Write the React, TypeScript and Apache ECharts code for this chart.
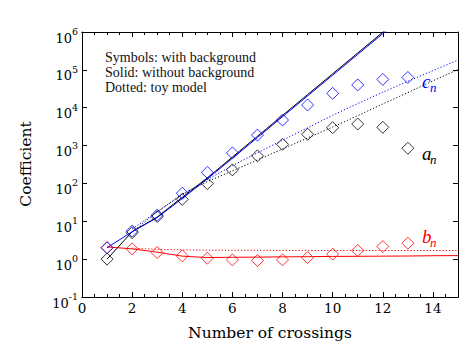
import React, { useEffect, useRef } from 'react';
import * as echarts from 'echarts';

// Symbols: with background
const crossings = [1, 2, 3, 4, 5, 6, 7, 8, 9, 10, 11, 12, 13];
const aSymbols = [1.0, 5.0, 13.3, 38, 99, 228, 535, 1080, 1990, 2970, 3720, 3040, 850];
const bSymbols = [2.0, 1.87, 1.49, 1.22, 1.06, 0.96, 0.92, 0.96, 1.1, 1.35, 1.69, 2.15, 2.64];
const cSymbols = [2.0, 5.5, 14.5, 55, 195, 640, 1890, 4730, 11800, 24000, 40000, 56000, 63000];

// Solid: without background
const solidX = [1, 2, 3, 4, 5, 6, 7, 8, 9, 10, 11, 12, 12.5];
const aSolid = [1.0, 5.3, 13, 43, 140, 497, 1760, 6250, 22200, 78700, 279000, 990000, 1900000];
const cSolid = [2.0, 5.3, 12.5, 40, 132, 460, 1630, 5800, 20500, 72500, 256000, 905000, 1700000];
const bSolidX = [1, 2, 3, 4, 5, 6, 7, 8, 9, 10, 11, 12, 13, 14, 15];
const bSolid = [2.1, 1.87, 1.53, 1.2, 1.1, 1.12, 1.13, 1.15, 1.16, 1.18, 1.19, 1.2, 1.21, 1.23, 1.24];

// Dotted: toy model
const toyX = [2, 3, 4, 5, 6, 7, 8, 9, 10, 11, 12, 13, 14, 15];
const aToy = [5.2, 17.8, 52.5, 112, 214, 417, 813, 1585, 3090, 6170, 12600, 25100, 51300, 102000];
const bToy = [1.95, 1.82, 1.76, 1.73, 1.72, 1.71, 1.7, 1.7, 1.69, 1.69, 1.69, 1.69, 1.69, 1.69];
const cToy = [6.3, 17.8, 50, 126, 295, 646, 1380, 2950, 6310, 12900, 25700, 50100, 95500, 182000];

const noteLines = ['Symbols: with background', 'Solid: without background', 'Dotted: toy model'];
const xTitle = 'Number of crossings';
const yTitle = 'Coefficient';

const BLUE = '#0000ff';
const RED = '#ff0000';
const BLACK = '#000000';
const AXIS_FONT = 'DejaVu Serif';
const NOTE_FONT = 'Liberation Serif';

const zip = (xs: number[], ys: number[]) => xs.map((x, i) => [x, ys[i]]);

export default function App() {
  const ref = useRef<HTMLDivElement>(null);
  useEffect(() => {
    if (!ref.current) return;
    const chart = echarts.init(ref.current, undefined, { renderer: 'svg' });

    const lineSeries = (data: number[][], color: string, dotted: boolean) => ({
      type: 'line',
      data,
      symbol: 'none',
      showSymbol: false,
      clip: true,
      lineStyle: { color, width: 1, type: dotted ? [1.2, 2] : 'solid' },
      z: 2,
    });
    const symSeries = (ys: number[], color: string) => ({
      type: 'scatter',
      data: zip(crossings, ys),
      symbol: 'diamond',
      symbolSize: 12,
      itemStyle: { color: 'rgba(0,0,0,0)', borderColor: color, borderWidth: 1 },
      z: 3,
    });

    const baseX = {
      type: 'value',
      min: 0,
      max: 15,
      splitLine: { show: false },
      axisLine: { show: true, onZero: false, lineStyle: { color: BLACK, width: 1 } },
    };

    const noteGraphics = noteLines.map((t, i) => ({
      type: 'text',
      x: 105,
      y: 57.3 + i * 15.3,
      style: {
        text: t,
        fill: '#111',
        font: `14px "${NOTE_FONT}"`,
        align: 'left',
        verticalAlign: 'middle',
      },
    }));

    const seriesLabel = (letter: string, color: string, baseY: number) => [
      {
        type: 'text',
        x: 422,
        y: baseY - 6.4,
        style: {
          text: letter,
          fill: color,
          font: `italic 19px "${NOTE_FONT}"`,
          align: 'left',
          verticalAlign: 'middle',
        },
      },
      {
        type: 'text',
        x: 430,
        y: baseY + 3.5 - 4.4,
        style: {
          text: 'n',
          fill: color,
          font: `italic 13px "${NOTE_FONT}"`,
          align: 'left',
          verticalAlign: 'middle',
        },
      },
    ];

    chart.setOption({
      animation: false,
      backgroundColor: '#ffffff',
      grid: { left: 82, right: 11, top: 32, bottom: 55, outerBoundsMode: 'none', containLabel: false },
      xAxis: [
        {
          ...baseX,
          position: 'bottom',
          interval: 2,
          axisTick: { show: true, inside: true, length: 5, lineStyle: { color: BLACK } },
          axisLabel: {
            show: true,
            showMaxLabel: false,
            margin: 4,
            color: BLACK,
            fontFamily: AXIS_FONT,
            fontSize: 13.5,
          },
        },
        {
          ...baseX,
          position: 'bottom',
          interval: 0.5,
          axisTick: { show: true, inside: true, length: 3, lineStyle: { color: BLACK } },
          axisLabel: { show: false },
        },
        {
          ...baseX,
          position: 'top',
          interval: 2,
          axisTick: { show: true, inside: true, length: 5, lineStyle: { color: BLACK } },
          axisLabel: { show: false },
        },
        {
          ...baseX,
          position: 'top',
          interval: 0.5,
          axisTick: { show: true, inside: true, length: 3, lineStyle: { color: BLACK } },
          axisLabel: { show: false },
        },
      ],
      yAxis: [
        {
          type: 'log',
          logBase: 10,
          min: 0.1,
          max: 1000000,
          splitNumber: 7,
          position: 'left',
          splitLine: { show: false },
          axisLine: { show: true, onZero: false, lineStyle: { color: BLACK, width: 1 } },
          axisTick: { show: true, inside: true, length: 5, lineStyle: { color: BLACK } },
          axisLabel: {
            margin: 4,
            padding: [7, 0, 0, 0],
            formatter: (v: number) => {
              const e = Math.round(Math.log10(v));
              return `{b|10}{s|${e}}`;
            },
            rich: {
              b: { fontFamily: AXIS_FONT, fontSize: 13, color: BLACK, lineHeight: 18, verticalAlign: 'bottom' },
              s: { fontFamily: AXIS_FONT, fontSize: 9.5, color: BLACK, lineHeight: 10, verticalAlign: 'top' },
            },
          },
        },
        {
          type: 'log',
          logBase: 10,
          min: 0.1,
          max: 1000000,
          splitNumber: 7,
          position: 'right',
          splitLine: { show: false },
          axisLine: { show: true, onZero: false, lineStyle: { color: BLACK, width: 1 } },
          axisTick: { show: true, inside: true, length: 5, lineStyle: { color: BLACK } },
          axisLabel: { show: false },
        },
      ],
      series: [
        lineSeries(zip(toyX, bToy), RED, true),
        lineSeries(zip(toyX, aToy), BLACK, true),
        lineSeries(zip(toyX, cToy), BLUE, true),
        lineSeries(zip(bSolidX, bSolid), RED, false),
        lineSeries(zip(solidX, aSolid), BLACK, false),
        lineSeries(zip(solidX, cSolid), BLUE, false),
        symSeries(bSymbols, RED),
        symSeries(aSymbols, BLACK),
        symSeries(cSymbols, BLUE),
      ],
      graphic: [
        ...noteGraphics,
        ...seriesLabel('c', BLUE, 88.3),
        ...seriesLabel('a', BLACK, 160),
        ...seriesLabel('b', RED, 243.3),
        {
          type: 'text',
          x: 270,
          y: 333,
          style: {
            text: xTitle,
            fill: BLACK,
            font: `15.5px "${AXIS_FONT}"`,
            align: 'center',
            verticalAlign: 'middle',
          },
        },
        {
          type: 'text',
          x: 26,
          y: 164,
          rotation: Math.PI / 2,
          style: {
            text: yTitle,
            fill: BLACK,
            font: `15.5px "${AXIS_FONT}"`,
            align: 'center',
            verticalAlign: 'middle',
          },
        },
      ],
    });
    return () => chart.dispose();
  }, []);
  return (
    <div
      ref={ref}
      style={{ position: 'absolute', left: 0, top: 0, width: 469, height: 352, background: '#fff' }}
    />
  );
}
